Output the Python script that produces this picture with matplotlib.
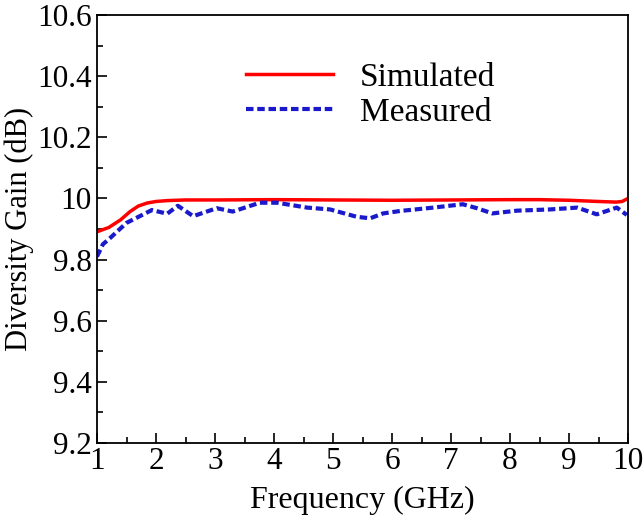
import matplotlib
matplotlib.use("Agg")
import matplotlib.pyplot as plt
from matplotlib.ticker import MultipleLocator

sim_f = [1.0, 1.2, 1.4, 1.56, 1.7, 1.85, 2.0, 2.2, 2.5, 3.0, 4.0, 5.0, 6.0, 7.0, 8.0, 8.5, 9.0, 9.5, 9.8, 9.9, 10.0]
sim_g = [9.891, 9.905, 9.93, 9.957, 9.975, 9.985, 9.99, 9.993, 9.995, 9.995, 9.996, 9.995, 9.994, 9.995, 9.996, 9.996, 9.994, 9.99, 9.988, 9.99, 10.0]

meas_f = [1.0, 1.1, 1.22, 1.5, 1.93, 2.19, 2.37, 2.63, 3.03, 3.3, 3.76, 4.05, 4.56, 4.95, 5.4, 5.63, 5.85, 6.14, 6.7, 7.2, 7.44, 7.7, 8.12, 8.68, 9.14, 9.47, 9.81, 9.98]
meas_g = [9.81, 9.85, 9.87, 9.92, 9.962, 9.95, 9.976, 9.942, 9.968, 9.957, 9.986, 9.986, 9.97, 9.964, 9.94, 9.935, 9.951, 9.959, 9.97, 9.981, 9.968, 9.951, 9.96, 9.964, 9.97, 9.948, 9.97, 9.946]

plt.rcParams['font.family'] = ['Liberation Serif']
fig = plt.figure(figsize=(6.44, 5.2), dpi=100)
ax = fig.add_axes([97/644, 1-443/520, (628-97)/644, (443-15)/520])

ax.plot(sim_f, sim_g, color='#ff0000', lw=2.5, label='Simulated')
ax.plot(meas_f, meas_g, color='#1a1acc', lw=3.0, ls=(0, (1.8, 0.9)), label='Measured')

ax.set_xlim(1, 10)
ax.set_ylim(9.2, 10.6)
ax.xaxis.set_major_locator(MultipleLocator(1))
ax.xaxis.set_minor_locator(MultipleLocator(0.5))
ax.yaxis.set_minor_locator(MultipleLocator(0.1))
ax.set_yticks([9.2, 9.4, 9.6, 9.8, 10.0, 10.2, 10.4, 10.6])
ax.set_yticklabels(['9.2', '9.4', '9.6', '9.8', '10', '10.2', '10.4', '10.6'])
ax.tick_params(which='both', direction='in', top=False, right=False, labelsize=22.5, width=1.2)
ax.tick_params(which='major', length=7)
ax.tick_params(axis='y', which='major', pad=4)
ax.tick_params(axis='x', which='major', pad=3)
ax.tick_params(which='minor', length=4)
for s in ax.spines.values():
    s.set_linewidth(1.3)

ax.set_xlabel('Frequency (GHz)', fontsize=23, labelpad=7)
ax.set_ylabel('Diversity Gain (dB)', fontsize=22, labelpad=2)

ax.legend(loc='upper left', bbox_to_anchor=(0.225, 0.96), frameon=False, fontsize=24,
          handlelength=2.6, handletextpad=0.8, labelspacing=0.15)

fig.savefig('out.png', dpi=100)
